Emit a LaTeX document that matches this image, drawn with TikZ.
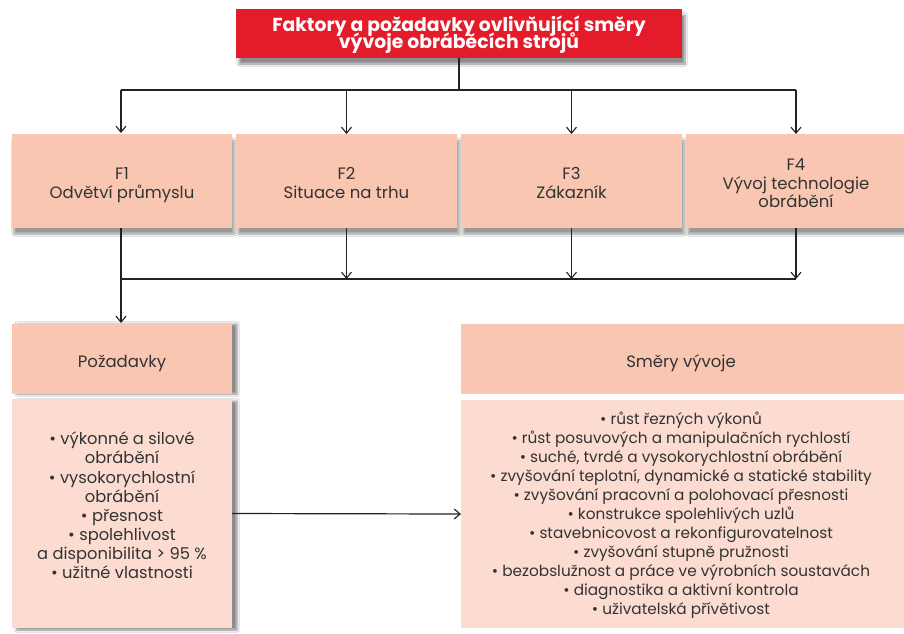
\documentclass[tikz,border=0pt]{standalone}
\usepackage{fontspec}
\setmainfont{Poppins}
\usetikzlibrary{arrows.meta,shadows.blur}
\definecolor{titlered}{HTML}{E31B2A}
\definecolor{headpeach}{HTML}{F9C6B1}
\definecolor{bodypeach}{HTML}{FCDCD0}
\definecolor{txt}{HTML}{333333}
\definecolor{ln}{HTML}{222222}
\newcommand{\tightlines}{\lineskiplimit=-50pt\lineskip=0pt}
\begin{document}
\begin{tikzpicture}[x=1pt,y=-1pt,
  every node/.style={inner sep=0pt,outer sep=0pt},
  titlebox/.style={fill=titlered,minimum width=446pt,minimum height=49pt,
    blur shadow={shadow xshift=3pt,shadow yshift=-6pt,shadow blur steps=8,shadow opacity=45}},
  titletext/.style={text=white,align=center,text depth=0pt,
    font=\bfseries\fontsize{18.8}{17.3}\selectfont\tightlines},
  fbox/.style={fill=headpeach,minimum width=221pt,minimum height=94pt,
    blur shadow={shadow xshift=2pt,shadow yshift=-6pt,shadow blur steps=8,shadow opacity=40}},
  boxtext/.style={text=txt,align=center,text depth=0pt,
    font=\fontsize{16.5}{18.5}\selectfont\tightlines},
  headbox/.style={fill=headpeach,minimum height=70pt},
  bodybox/.style={fill=bodypeach},
  conn/.style={draw=ln,line width=1.2pt},
  arr/.style={conn,-{Straight Barb[length=6pt,width=10pt,line width=1.1pt]}}
]
\useasboundingbox (0,0) rectangle (904,633);
\fill[white] (0,0) rectangle (904,633);

\node[titlebox] (title) at (459,33.5) {};
\node[titletext,anchor=base] (titlet) at (459,48.3) {Faktory a požadavky ovlivňující směry\\vývoje obráběcích strojů};

\node[fbox,minimum width=220pt] (f1) at (122,181) {};
\node[fbox] (f2) at (346.5,181) {};
\node[fbox] (f3) at (571.5,181) {};
\node[fbox,minimum width=220pt] (f4) at (796,181) {};
\node[boxtext,anchor=base] (f1t) at (122,198) {F1\\Odvětví průmyslu};
\node[boxtext,anchor=base] (f2t) at (346.5,198) {F2\\Situace na trhu};
\node[boxtext,anchor=base] (f3t) at (571.5,198) {F3\\Zákazník};
\node[boxtext,anchor=base] (f4t) at (796,207.5) {F4\\Vývoj technologie\\obrábění};

\node[headbox,minimum width=220pt,
  blur shadow={shadow xshift=5pt,shadow yshift=0pt,shadow blur steps=6,shadow opacity=45}] (ph) at (122,359) {};
\node[boxtext,anchor=base] (pht) at (122,367.5) {Požadavky};
\node[bodybox,minimum width=220pt,minimum height=229pt,
  blur shadow={shadow xshift=5pt,shadow yshift=-2pt,shadow blur steps=6,shadow opacity=45}] (pb) at (122,513.5) {};
\node[boxtext,anchor=base,font=\fontsize{16.3}{19.1}\selectfont\tightlines] (pbt) at (122,578.5)
  {• výkonné a silové\\obrábění\\• vysokorychlostní\\obrábění\\• přesnost\\• spolehlivost\\a disponibilita > 95 \%\\• užitné vlastnosti};

\node[headbox,minimum width=445pt] (sh) at (683.5,359) {};
\node[boxtext,anchor=base] (sht) at (681,367.5) {Směry vývoje};
\node[bodybox,minimum width=445pt,minimum height=228pt] (sb) at (683.5,514) {};
\node[boxtext,anchor=base,font=\fontsize{15.3}{19.0}\selectfont\tightlines] (sbt) at (681,614)
  {• růst řezných výkonů\\• růst posuvových a manipulačních rychlostí\\• suché, tvrdé a vysokorychlostní obrábění\\• zvyšování teplotní, dynamické a statické stability\\• zvyšování pracovní a polohovací přesnosti\\• konstrukce spolehlivých uzlů\\• stavebnicovost a rekonfigurovatelnost\\• zvyšování stupně pružnosti\\• bezobslužnost a práce ve výrobních soustavách\\• diagnostika a aktivní kontrola\\• uživatelská přívětivost};

% top distribution
\coordinate (c0) at (459,90);
\coordinate (cl) at (121,90);
\coordinate (cr) at (796,90);
\draw[conn] (title.south) -- (c0);
\draw[conn] (cl) -- (cr);
\draw[arr] (cl) -- (121,133);
\draw[arr] (346.5,90) -- (f2.north);
\draw[arr] (571.5,90) -- (f3.north);
\draw[arr] (cr) -- (f4.north);

% collection
\coordinate (bl) at (121,279);
\coordinate (br) at (796,279);
\draw[conn] (bl) -- (br);
\draw[arr] (121,228) -- (121,323);
\draw[arr] (f2.south) -- (f2.south |- bl);
\draw[arr] (f3.south) -- (f3.south |- bl);
\draw[arr] (f4.south) -- (f4.south |- bl);

% requirements -> directions
\draw[arr] (pb.east) -- (sb.west);
\end{tikzpicture}
\end{document}
